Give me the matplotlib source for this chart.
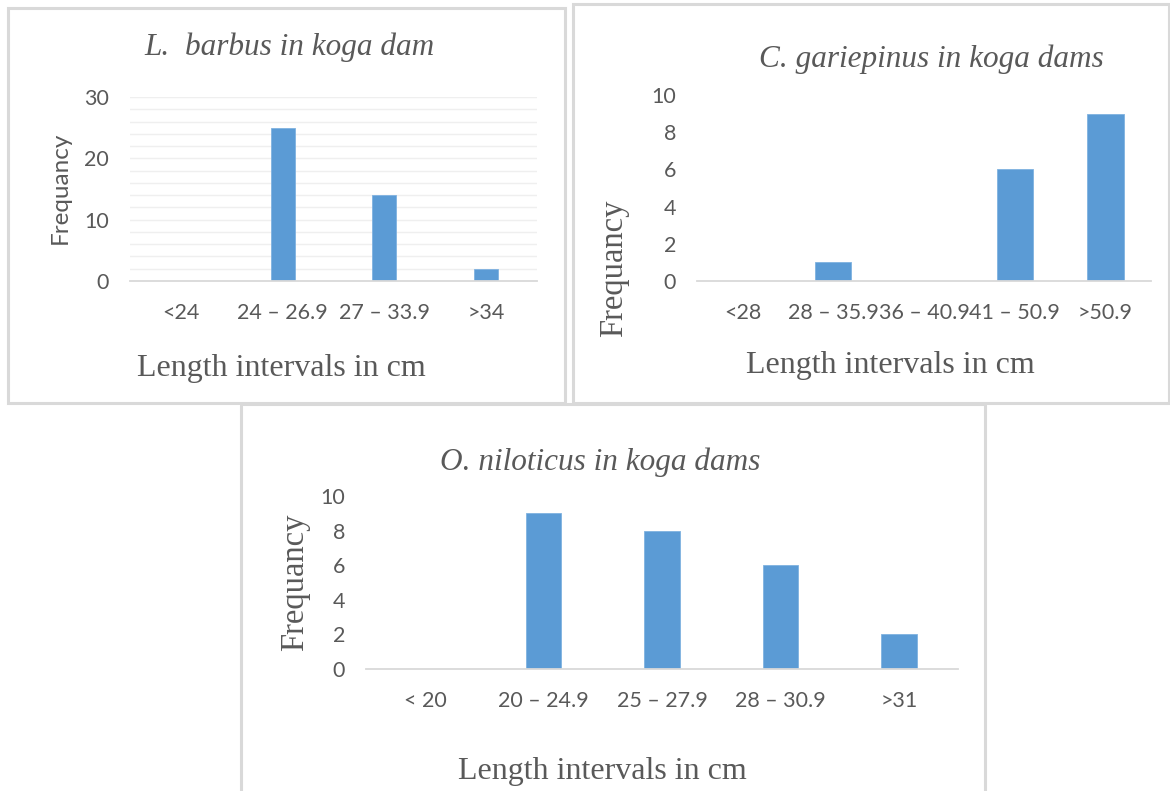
import matplotlib
matplotlib.use("Agg")
import matplotlib.pyplot as plt
from matplotlib.patches import Rectangle
import numpy as np

# Length-frequency data for three fish species in Koga dam
barbus_labels = ["<24", "24 – 26.9", "27 – 33.9", ">34"]
barbus_counts = [0, 25, 14, 2]

clarias_labels = ["<28", "28 – 35.9", "36 – 40.9", "41 – 50.9", ">50.9"]
clarias_counts = [0, 1, 0, 6, 9]

tilapia_labels = ["< 20", "20 – 24.9", "25 – 27.9", "28 – 30.9", ">31"]
tilapia_counts = [0, 9, 8, 6, 2]

W, H = 1170, 791
BAR = "#5B9BD5"
TXT = "#595959"
AXLINE = "#D9D9D9"
GRID = "#EFEFEF"
FRAME = "#D9D9D9"
SANS = "Lato"
SERIF = "Liberation Serif"

fig = plt.figure(figsize=(W / 100, H / 100), dpi=100)
fig.patch.set_facecolor("white")


def px_box(x0, y0, x1, y1):
    """Convert a pixel box (top-left origin) to figure fractions."""
    return [x0 / W, 1 - y1 / H, (x1 - x0) / W, (y1 - y0) / H]


def frame(x0, y0, x1, y1):
    l, b, w, h = px_box(x0, y0, x1, y1)
    fig.patches.append(Rectangle((l, b), w, h, transform=fig.transFigure,
                                 fill=False, edgecolor=FRAME, linewidth=2.2,
                                 zorder=0))


def panel(ax_box, labels, counts, ymax, ystep, width, minor=None):
    ax = fig.add_axes(px_box(*ax_box))
    x = np.arange(len(labels))
    ax.bar(x, counts, width=width, color=BAR, edgecolor="#7FB2E0",
           linewidth=0.6, zorder=3)
    ax.set_xlim(-0.5, len(labels) - 0.5)
    ax.set_ylim(0, ymax)
    ax.set_yticks(np.arange(0, ymax + 0.1, ystep))
    ax.set_xticks(x)
    ax.set_xticklabels(labels)
    for s in ["top", "right", "left"]:
        ax.spines[s].set_visible(False)
    ax.spines["bottom"].set_color(AXLINE)
    ax.spines["bottom"].set_linewidth(1.3)
    ax.spines["bottom"].set_zorder(4)
    ax.tick_params(axis="both", length=0, colors=TXT, labelsize=15.5)
    ax.tick_params(axis="x", pad=16)
    ax.tick_params(axis="y", pad=15)
    for t in ax.get_xticklabels() + ax.get_yticklabels():
        t.set_fontfamily(SANS)
    if minor is not None:
        ax.set_yticks(np.arange(0, ymax + 0.1, minor), minor=True)
        ax.tick_params(axis="y", which="minor", length=0)
        ax.grid(True, axis="y", which="both", color=GRID, linewidth=1.0,
                zorder=0)
    ax.set_facecolor("none")
    return ax


# Panel frames
frame(8, 8, 565, 403)
frame(573, 4, 1169, 403)
frame(241, 404, 985, 795)

TITLE_FS = 22.5
XLAB_FS = 23
YLAB_FS = 23.5

# L. barbus
ax1 = panel((130, 97, 537, 281), barbus_labels, barbus_counts,
            30, 10, 0.235, minor=2)
fig.text(289 / W, 1 - 47 / H, "L.  barbus in koga dam", ha="center",
         va="center", fontsize=TITLE_FS, fontstyle="italic", family=SERIF,
         color=TXT)
fig.text(60 / W, 1 - 188 / H, "Frequancy", ha="center", va="center",
         rotation=90, fontsize=17.5, family=SANS, color=TXT)
fig.text(281 / W, 1 - 369 / H, "Length intervals in cm", ha="center",
         va="center", fontsize=XLAB_FS, family=SERIF, color=TXT)

# C. gariepinus
ax2 = panel((697, 95, 1151, 281), clarias_labels, clarias_counts,
            10, 2, 0.40)
fig.text(931 / W, 1 - 59 / H, "C. gariepinus in koga dams", ha="center",
         va="center", fontsize=TITLE_FS, fontstyle="italic", family=SERIF,
         color=TXT)
fig.text(614 / W, 1 - 268 / H, "Frequancy", ha="center", va="center",
         rotation=90, fontsize=YLAB_FS, family=SERIF, color=TXT)
fig.text(890 / W, 1 - 366 / H, "Length intervals in cm", ha="center",
         va="center", fontsize=XLAB_FS, family=SERIF, color=TXT)

# O. niloticus
ax3 = panel((366, 496, 958, 669), tilapia_labels, tilapia_counts,
            10, 2, 0.30)
fig.text(600 / W, 1 - 462 / H, "O. niloticus in koga dams", ha="center",
         va="center", fontsize=TITLE_FS, fontstyle="italic", family=SERIF,
         color=TXT)
fig.text(295 / W, 1 - 582 / H, "Frequancy", ha="center", va="center",
         rotation=90, fontsize=YLAB_FS, family=SERIF, color=TXT)
fig.text(602 / W, 1 - 771 / H, "Length intervals in cm", ha="center",
         va="center", fontsize=XLAB_FS, family=SERIF, color=TXT)

fig.savefig("out.png", dpi=100, facecolor="white")
